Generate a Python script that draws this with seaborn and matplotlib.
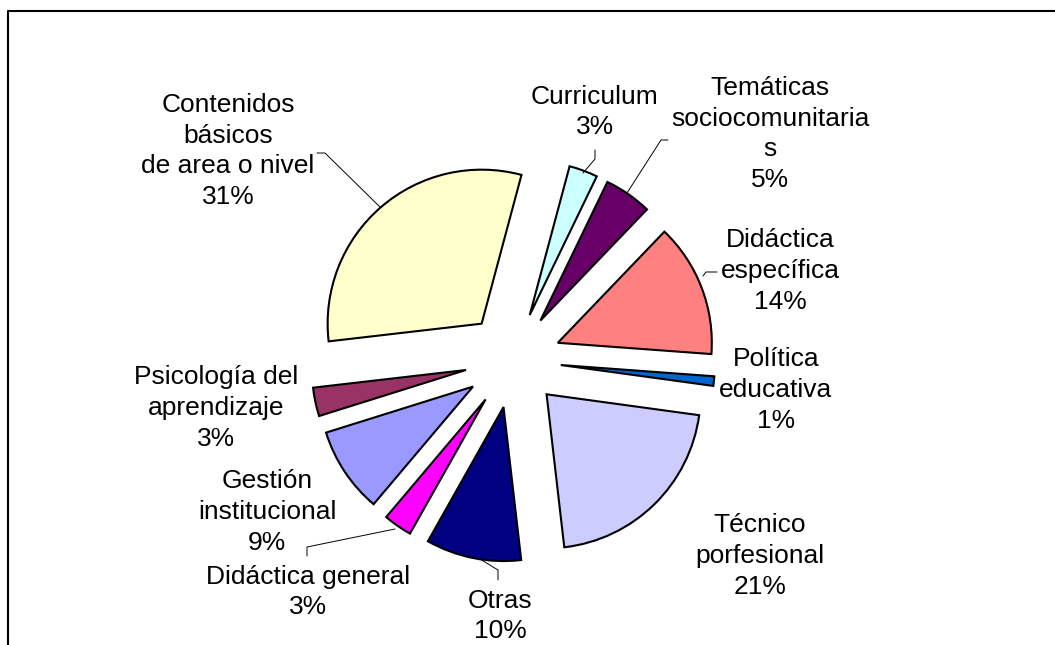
import matplotlib
matplotlib.use("Agg")
import matplotlib.pyplot as plt
import seaborn as sns

# slices, clockwise starting a little past 12 o'clock (Excel style)
categories = ["Curriculum", "Temáticas\nsociocomunitaria\ns", "Didáctica\nespecífica",
              "Política\neducativa", "Técnico\nporfesional", "Otras", "Didáctica general",
              "Gestión\ninstitucional", "Psicología del\naprendizaje",
              "Contenidos\nbásicos\nde area o nivel"]
values = [3, 5, 14, 1, 21, 10, 3, 9, 3, 31]
colors = ["#CCFFFF", "#660066", "#FF8080", "#0066CC", "#CCCCFF",
          "#000080", "#FF00FF", "#9999FF", "#993366", "#FFFFCC"]

# label block centres (pixel coords, y down)
label_pos = [(595, 112), (770, 134), (780, 271), (776, 390), (760, 556),
             (500, 616), (308, 592), (267, 512), (216, 408), (228, 151)]

# leader lines
leaders = [
    [(583, 173), (595, 159), (595, 150)],
    [(627, 193), (661, 140), (668, 140)],
    [(703, 276), (706, 272), (717, 272)],
    [(395, 529), (307, 547), (307, 556)],
    [(480, 559), (498, 570), (498, 580)],
    [(380, 207), (325, 153), (317, 153)],
]

sns.set_theme(style="white")
plt.rcParams["font.family"] = ["Liberation Sans", "DejaVu Sans"]

fig = plt.figure(figsize=(10.55, 6.45), dpi=100)
ax = fig.add_axes([0, 0, 1, 1])

# explode is in data units (pixels here)
ax.pie(values, colors=colors, center=(513, 360), radius=154,
       explode=[48] * len(values), startangle=-75, counterclock=True,
       wedgeprops=dict(edgecolor="black", linewidth=1.5), frame=True)

ax.set_xlim(0, 1055)
ax.set_ylim(645, 0)
ax.set_aspect("equal")
ax.axis("off")

for cat, v, (x, y) in zip(categories, values, label_pos):
    ax.text(x, y, f"{cat}\n{v}%", ha="center", va="center", multialignment="center",
            fontsize=19, color="black", linespacing=1.36)

for pts in leaders:
    xs, ys = zip(*pts)
    ax.plot(xs, ys, color="black", linewidth=0.7)

# chart area border (top and left edges visible)
ax.plot([8, 8, 1060], [650, 11, 11], color="black", linewidth=1.5, clip_on=False)

fig.savefig("out.png", dpi=100)
